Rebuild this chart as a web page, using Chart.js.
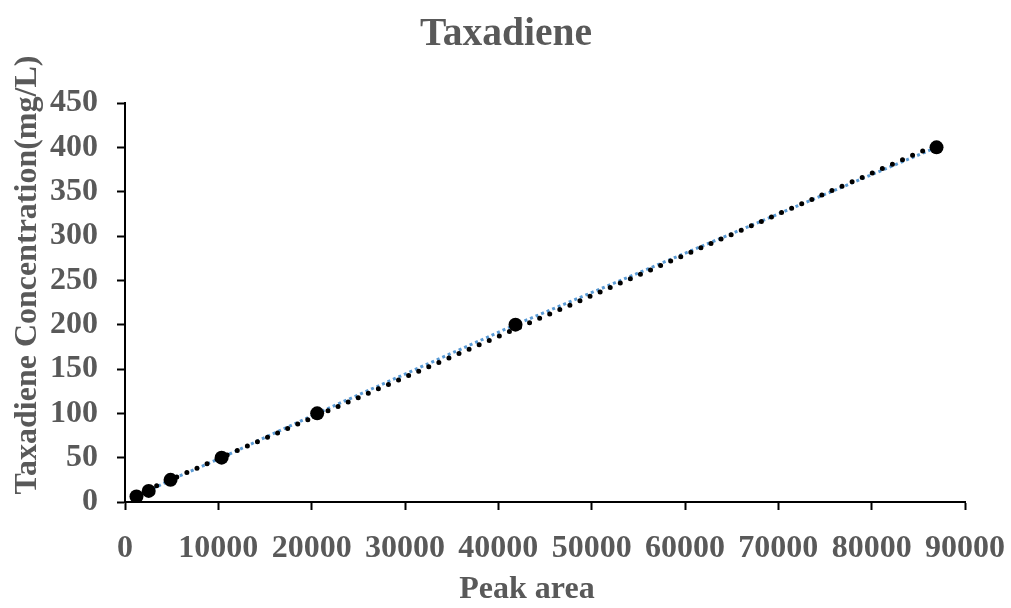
<!DOCTYPE html>
<html>
<head>
<meta charset="utf-8">
<script src="https://cdn.jsdelivr.net/npm/chart.js@4"></script>
<style>
  html, body { margin: 0; padding: 0; background: #ffffff; }
  #wrap { width: 1011px; height: 608px; position: relative; }
</style>
</head>
<body>
<div id="wrap"><canvas id="chart" width="1011" height="608"></canvas></div>
<script>
// Calibration standards: GC peak area vs. known taxadiene concentration
const peakArea = [1230, 2540, 4880, 10350, 20590, 41840, 86950];
const concentration = [6.25, 12.5, 25, 50, 100, 200, 400];

const chartTitle = 'Taxadiene';
const xTitle = 'Peak area';
const yTitle = 'Taxadiene Concentration(mg/L)';

const xTicks = [0, 10000, 20000, 30000, 40000, 50000, 60000, 70000, 80000, 90000];
const yTicks = [0, 50, 100, 150, 200, 250, 300, 350, 400, 450];

// Least-squares linear trendline through the standards
function linearFit(xs, ys) {
  const n = xs.length;
  const mx = xs.reduce((a, b) => a + b, 0) / n;
  const my = ys.reduce((a, b) => a + b, 0) / n;
  let sxy = 0, sxx = 0;
  for (let i = 0; i < n; i++) {
    sxy += (xs[i] - mx) * (ys[i] - my);
    sxx += (xs[i] - mx) * (xs[i] - mx);
  }
  const slope = sxy / sxx;
  return { slope, intercept: my - slope * mx };
}
const fit = linearFit(peakArea, concentration);
const xMin = Math.min(...peakArea), xMax = Math.max(...peakArea);
const trendPoints = [
  { x: xMin, y: fit.slope * xMin + fit.intercept },
  { x: xMax, y: fit.slope * xMax + fit.intercept }
];

const points = peakArea.map((x, i) => ({ x, y: concentration[i] }));

const FONT = '"Liberation Serif", "Times New Roman", serif';
const GREY = '#595959';

// Titles are painted directly on the canvas
const titlePlugin = {
  id: 'titles',
  afterDraw(chart) {
    const ctx = chart.ctx;
    ctx.save();
    ctx.fillStyle = GREY;
    ctx.textAlign = 'center';
    ctx.textBaseline = 'alphabetic';
    ctx.font = 'bold 39.5px ' + FONT;
    ctx.fillText(chartTitle, 506, 45);
    ctx.font = 'bold 32px ' + FONT;
    ctx.fillText(xTitle, 527, 598);
    ctx.translate(36, 275);
    ctx.rotate(-Math.PI / 2);
    ctx.fillText(yTitle, 0, 0);
    ctx.restore();
  }
};

new Chart(document.getElementById('chart'), {
  type: 'scatter',
  data: {
    datasets: [
      {
        label: 'Trendline',
        data: trendPoints,
        showLine: true,
        borderColor: '#000000',
        borderWidth: 5,
        borderDash: [0, 11],
        borderCapStyle: 'round',
        pointRadius: 0,
        pointHoverRadius: 0,
        order: 0
      },
      {
        label: 'Taxadiene',
        data: points,
        showLine: true,
        borderColor: '#5B9BD5',
        borderWidth: 3,
        borderDash: [3, 3],
        pointRadius: 7,
        pointBackgroundColor: '#000000',
        pointBorderColor: '#000000',
        pointBorderWidth: 0,
        order: 1
      }
    ]
  },
  options: {
    responsive: false,
    animation: false,
    layout: { padding: { top: 103, right: 46, left: 0, bottom: 0 } },
    plugins: {
      legend: { display: false },
      title: { display: false },
      tooltip: { enabled: false }
    },
    scales: {
      x: {
        type: 'linear',
        min: 0,
        max: 90000,
        afterBuildTicks(scale) { scale.ticks = xTicks.map(v => ({ value: v })); },
        afterFit(scale) {
          scale.height = 106;
          scale.paddingLeft = 0;
          scale.paddingRight = 0;
        },
        grid: {
          drawOnChartArea: false,
          drawTicks: true,
          tickLength: 8,
          tickWidth: 2,
          tickColor: '#000000'
        },
        border: { display: true, color: '#000000', width: 2 },
        ticks: {
          padding: 20,
          maxRotation: 0,
          autoSkip: false,
          color: GREY,
          font: { family: FONT, size: 32, weight: 'bold' },
          callback: v => String(v)
        }
      },
      y: {
        type: 'linear',
        min: 0,
        max: 450,
        afterBuildTicks(scale) { scale.ticks = yTicks.map(v => ({ value: v })); },
        afterFit(scale) {
          scale.width = 125;
          scale.paddingTop = 0;
          scale.paddingBottom = 0;
        },
        grid: {
          drawOnChartArea: false,
          drawTicks: true,
          tickLength: 8,
          tickWidth: 2,
          tickColor: '#000000'
        },
        border: { display: true, color: '#000000', width: 2 },
        ticks: {
          padding: 19,
          autoSkip: false,
          color: GREY,
          font: { family: FONT, size: 32, weight: 'bold' },
          callback: v => String(v)
        }
      }
    }
  },
  plugins: [titlePlugin]
});
</script>
</body>
</html>
